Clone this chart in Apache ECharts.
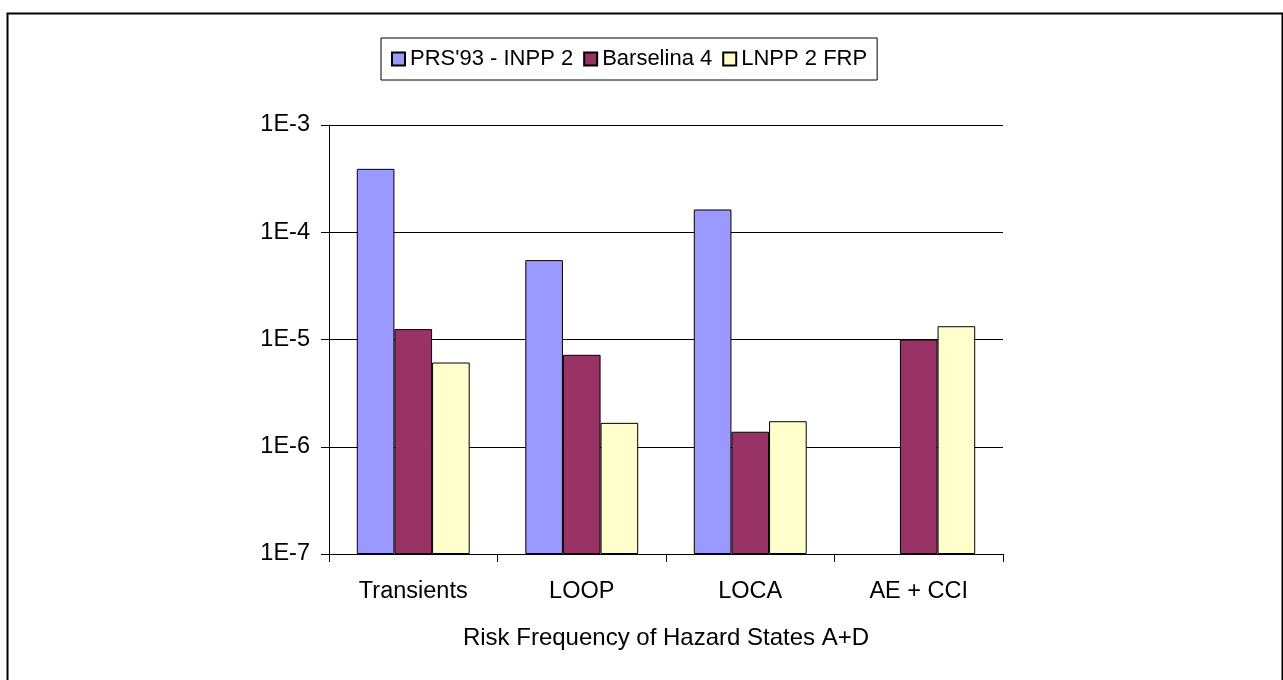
<!DOCTYPE html>
<html>
<head>
<meta charset="utf-8">
<script src="https://cdn.jsdelivr.net/npm/echarts@6/dist/echarts.min.js"></script>
<style>
html,body{margin:0;padding:0;background:#fff;}
#chart{width:1283px;height:680px;}
</style>
</head>
<body>
<div id="chart"></div>
<script>
const categories = ['Transients', 'LOOP', 'LOCA', 'AE + CCI'];
const seriesNames = ["PRS'93 - INPP 2", 'Barselina 4', 'LNPP 2 FRP'];
const prs93 = [3.9e-4, 5.5e-5, 1.63e-4, null];
const barselina = [1.25e-5, 7.2e-6, 1.38e-6, 1.0e-5];
const lnpp = [6.1e-6, 1.67e-6, 1.73e-6, 1.33e-5];
const yExponents = [-7, -6, -5, -4, -3];
const axisTitle = 'Risk Frequency of Hazard States A+D';

const colors = ['#9999FF', '#993366', '#FFFFCC'];
const font = 'Liberation Sans, Arial, sans-serif';
const fs = 23.5;

// Bars on a log scale must grow from the bottom decade (1E-7), so the
// value axis counts decades above 1E-7: position = log10(v) - log10(1E-7).
const base = yExponents[0];
const toDecades = arr => arr.map(v => (v == null ? null : Math.log10(v) - base));

const chart = echarts.init(document.getElementById('chart'));
const values = [prs93, barselina, lnpp];
chart.setOption({
  animation: false,
  backgroundColor: '#fff',
  graphic: [{
    type: 'rect', left: 5, top: 11,
    shape: { width: 1275, height: 680 },
    style: { fill: 'none', stroke: '#000', lineWidth: 2 }
  }],
  title: {
    text: axisTitle,
    left: 666, top: 626, textAlign: 'center', padding: 0,
    textStyle: { fontFamily: font, fontSize: 24, fontWeight: 'normal', color: '#000' }
  },
  legend: {
    left: 381, top: 38,
    padding: [10, 10, 10, 10],
    itemGap: 10, itemWidth: 13, itemHeight: 13,
    borderColor: '#000', borderWidth: 1,
    icon: 'rect',
    textStyle: { fontFamily: font, fontSize: 22, color: '#000' },
    data: seriesNames
  },
  grid: { left: 329, right: 280, top: 125, bottom: 126, containLabel: false },
  xAxis: {
    type: 'category', data: categories,
    axisLine: { lineStyle: { color: '#000', width: 1 } },
    axisTick: { show: true, length: 8, lineStyle: { color: '#000' } },
    axisLabel: { fontFamily: font, fontSize: fs, color: '#000', margin: 26 },
    splitLine: { show: false }
  },
  yAxis: {
    type: 'value', min: 0, max: yExponents[yExponents.length - 1] - base, interval: 1,
    axisLine: { show: true, lineStyle: { color: '#000', width: 1 } },
    axisTick: { show: true, length: 8, lineStyle: { color: '#000' } },
    axisLabel: {
      fontFamily: font, fontSize: fs, color: '#000', margin: 19,
      formatter: v => '1E' + (v + base)
    },
    splitLine: { show: true, lineStyle: { color: '#000', width: 1 } }
  },
  series: seriesNames.map((n, i) => ({
    name: n, type: 'bar', data: toDecades(values[i]),
    barGap: '0%', barCategoryGap: '33%',
    itemStyle: { color: colors[i], borderColor: '#000', borderWidth: 1 }
  }))
});
</script>
</body>
</html>
